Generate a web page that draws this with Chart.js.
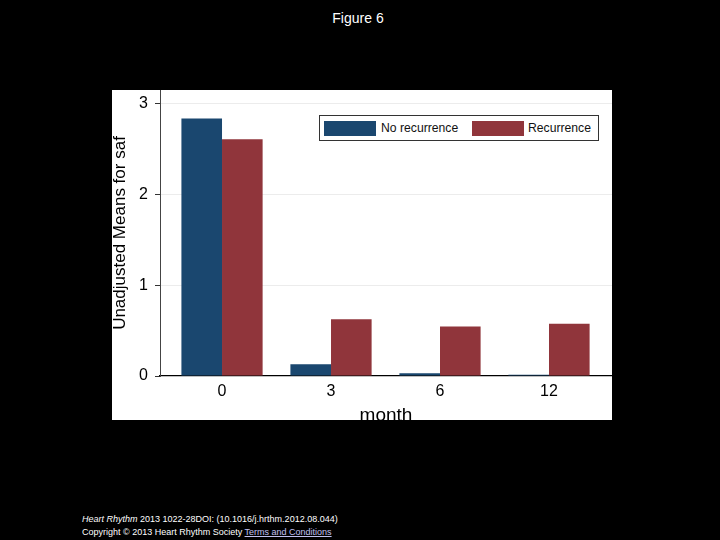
<!DOCTYPE html>
<html>
<head>
<meta charset="utf-8">
<script src="https://cdn.jsdelivr.net/npm/chart.js@4.4.0/dist/chart.umd.min.js"></script>
<style>
  html, body { margin:0; padding:0; background:#000; width:720px; height:540px; overflow:hidden; font-family:"Liberation Sans", Arial, sans-serif; }
  #title { position:absolute; left:0; width:716px; top:10px; text-align:center; color:#fff; font-size:14px; }
  #panel { position:absolute; left:112px; top:90px; width:500px; height:330px; overflow:hidden; background:#fff; }
  #chartwrap { position:absolute; left:0; top:0; width:500px; height:335px; }
  #legend { position:absolute; left:207px; top:24.5px; width:278px; height:24px; border:1px solid #333; background:#fff; font-size:12.2px; color:#111; }
  .sw { position:absolute; top:5px; height:15px; width:52px; }
  .lt { position:absolute; top:5px; line-height:15px; }
  #footer { position:absolute; left:82px; top:513px; color:#fff; font-size:9px; line-height:13px; }
  #footer a { color:#c0c0f0; text-decoration:underline; }
</style>
</head>
<body>
<div id="title">Figure 6</div>
<div id="panel">
  <div id="chartwrap"><canvas id="c" width="500" height="335"></canvas></div>
  <div id="legend">
    <div class="sw" style="left:4px;background:#1a476f"></div>
    <div class="lt" style="left:61px">No recurrence</div>
    <div class="sw" style="left:152px;background:#90353b"></div>
    <div class="lt" style="left:208px">Recurrence</div>
  </div>
</div>
<div id="footer"><i>Heart Rhythm</i> 2013 1022-28DOI: (10.1016/j.hrthm.2012.08.044)<br>Copyright © 2013 Heart Rhythm Society <a>Terms and Conditions</a></div>
<script>
const months = ["0", "3", "6", "12"];
const noRecurrence = [2.84, 0.13, 0.03, 0.015];
const recurrence = [2.61, 0.625, 0.545, 0.575];
const yTicks = [0, 1, 2, 3];
const seriesNames = ["No recurrence", "Recurrence"];
const colors = ["#1a476f", "#90353b"];

const toPts = arr => arr.map((v, i) => ({ x: i, y: v }));
const zeroPad = s => { s.paddingTop = 0; s.paddingBottom = 0; s.paddingLeft = 0; s.paddingRight = 0; };

new Chart(document.getElementById('c'), {
  type: 'bar',
  data: {
    datasets: [
      { label: seriesNames[0], data: toPts(noRecurrence), backgroundColor: colors[0], borderWidth: 0 },
      { label: seriesNames[1], data: toPts(recurrence), backgroundColor: colors[1], borderWidth: 0 }
    ]
  },
  options: {
    responsive: false,
    animation: false,
    layout: { padding: 0 },
    categoryPercentage: 0.745,
    barPercentage: 1.0,
    plugins: { legend: { display: false }, tooltip: { enabled: false } },
    scales: {
      x: {
        type: 'linear',
        offset: false,
        min: -0.569,
        max: 3.578,
        afterBuildTicks: s => { s.ticks = months.map((m, i) => ({ value: i })); },
        afterFit: s => { s.height = 49; zeroPad(s); },
        grid: { display: false, drawTicks: false },
        border: { display: true, color: '#000', width: 1.3 },
        ticks: {
          padding: 6,
          color: '#000',
          font: { family: '"Liberation Sans", Arial, sans-serif', size: 16 },
          callback: (v) => months[v] !== undefined ? months[v] : ''
        },
        title: {
          display: true,
          text: 'month',
          color: '#000',
          font: { family: '"Liberation Sans", Arial, sans-serif', size: 19, lineHeight: 1 },
          padding: { top: 0, bottom: 0 }
        }
      },
      y: {
        min: 0,
        max: 3.154,
        afterBuildTicks: s => { s.ticks = yTicks.map(v => ({ value: v })); },
        afterFit: s => { s.width = 48; zeroPad(s); },
        grid: {
          color: ctx => ctx.tick && ctx.tick.value === 0 ? 'rgba(0,0,0,0)' : '#ececec',
          tickColor: '#333',
          tickLength: 5,
          drawTicks: true
        },
        border: { display: true, color: '#444', width: 1 },
        ticks: {
          padding: 7,
          color: '#000',
          font: { family: '"Liberation Sans", Arial, sans-serif', size: 16 }
        },
        title: {
          display: true,
          text: 'Unadjusted Means for saf',
          color: '#000',
          font: { family: '"Liberation Sans", Arial, sans-serif', size: 17, lineHeight: 1 },
          padding: { top: 0, bottom: 0 }
        }
      }
    }
  }
});
</script>
</body>
</html>
